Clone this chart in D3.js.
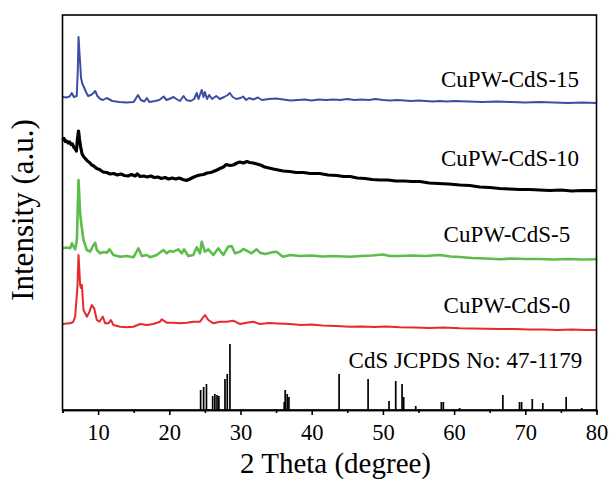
<!DOCTYPE html>
<meta charset="utf-8">
<head>
<style>
    body { margin: 0; background: #fff; }
    text { font-family: "Liberation Serif", "Times New Roman", serif; fill: #000; }
    .frame { fill: none; stroke: #000; stroke-width: 1.6px; }
    .axis path, .axis line { stroke: #000; stroke-width: 1.6px; }
    .axis text { font-size: 22.5px; font-family: "Liberation Serif", serif; }
    .trace { fill: none; stroke-linejoin: round; }
</style>
</head>
<body>
<script src="https://d3js.org/d3.v7.min.js"></script>
<script>

    // tick labels of the 2 theta axis
    var xTicks = [10, 20, 30, 40, 50, 60, 70, 80];
    var xMinorTicks = [5, 15, 25, 35, 45, 55, 65, 75];

    // stacked XRD traces, [2 theta, intensity (a.u., offset included)]
    var cupw15 = [[5.0,313],[5.5,312.5],[6.0,313.5],[6.3,317],[6.6,313],[7.0,314],[7.15,340],[7.25,373],[7.4,355],[7.5,345],[7.6,332],[7.8,326],[8.0,323],[8.3,318],[8.6,314],[9.0,315],[9.35,317],[9.6,319],[9.9,314],[10.3,311],[10.7,310],[11.2,312],[11.6,310.5],[12.0,309],[12.5,308.5],[13.0,308],[14.0,307.5],[15.0,308],[15.6,315],[16.0,310],[16.5,308.5],[16.85,312],[17.2,308],[18.0,309],[18.6,310],[19.2,313.5],[19.6,310],[20.0,311],[20.6,313],[21.0,311],[21.5,309],[22.0,314],[22.4,310],[23.0,309],[23.5,311],[23.85,317],[24.1,311],[24.55,320],[24.8,313],[25.0,318],[25.3,311],[25.6,315],[26.0,311],[26.6,314],[27.1,311],[27.7,313],[28.2,315],[28.5,317],[28.9,313],[29.4,311],[30.0,312],[30.35,313.5],[30.8,310],[31.2,312],[31.8,310.5],[32.45,312.5],[33.0,310],[34.0,311],[35.05,311.5],[36.0,310.5],[37.0,309.5],[38.05,310],[39.0,310.5],[40.0,309.5],[41.0,310.5],[42.0,310],[43.0,310.5],[44.0,310],[45.0,311],[46.0,310],[47.0,310.5],[48.0,310],[49.0,311],[50.0,310],[51.0,309.5],[52.0,310],[53.0,309.5],[54.0,309],[55.0,309.5],[56.0,309],[57.0,308.5],[58.0,309],[59.0,308.5],[60.0,309],[62.0,308.5],[64.0,308],[66.0,308.5],[68.0,308],[70.0,307.5],[72.0,308],[74.0,307.5],[76.0,307],[78.0,307.5],[80.0,307]];

    var cupw10 = [[5.0,270],[5.2,271.5],[5.4,268.5],[5.6,269],[5.8,267],[6.0,268],[6.2,265.5],[6.4,266],[6.6,262.5],[6.8,261],[6.95,259],[7.1,271],[7.25,279],[7.4,270],[7.55,263],[7.75,256],[8.0,253],[8.2,251.5],[8.5,249],[8.8,247.5],[9.1,245],[9.4,244],[9.8,241.5],[10.2,240.5],[10.7,238],[11.2,237.5],[11.7,236],[12.2,236.5],[12.7,235],[13.2,236],[13.7,234.5],[14.2,234],[14.7,235.5],[15.2,234],[15.5,236],[15.9,233.5],[16.4,234],[16.9,233],[17.4,234],[17.9,232.5],[18.4,233],[18.9,231.5],[19.4,232.5],[19.9,231],[20.4,232],[20.9,231],[21.4,232],[21.9,230.5],[22.4,229.5],[22.9,231],[23.3,232.5],[23.8,234],[24.3,235],[24.8,235.5],[25.3,237],[25.8,237.5],[26.2,238.5],[26.7,240],[27.1,241.5],[27.6,243],[28.0,245.5],[28.5,244.5],[29.0,245],[29.5,247],[29.9,248],[30.4,247],[30.9,248.5],[31.3,247.5],[31.8,247],[32.3,246],[32.8,245],[33.4,243],[34.0,242],[34.6,241],[35.3,240],[36.0,239],[36.9,238.5],[37.8,237.5],[38.8,237.5],[39.8,236.5],[41.1,236.5],[42.3,235],[43.5,234.5],[44.5,233.5],[45.4,233.5],[46.4,232],[47.5,231.5],[48.5,230.5],[49.6,230],[50.7,230],[51.8,229],[53.0,229],[54.1,228.5],[55.2,228.5],[56.5,227],[57.8,226.5],[59.2,226],[60.8,225],[62.2,224.5],[63.6,223],[65.0,222.5],[66.4,221.5],[67.8,221],[69.2,220.5],[70.6,220.5],[72.0,220],[73.5,219.5],[75.0,220],[76.5,219],[78.0,219.5],[80.0,219.3]];

    var cupw5 = [[5.0,161.7],[5.6,162.5],[6.08,161.7],[6.32,166.7],[6.78,160.7],[7.02,170],[7.25,230],[7.48,196.7],[7.72,181.7],[7.95,170],[8.42,160],[8.88,158.3],[9.35,165],[9.59,167.3],[9.82,160],[10.29,156.7],[10.8,158],[11.23,157.3],[11.59,160.7],[12.15,155],[13.09,153.3],[14.0,154],[14.96,152.7],[15.66,161.7],[16.14,154],[16.84,155],[17.3,152.7],[18.24,155],[19.17,160],[19.64,156.7],[20.1,159],[20.57,158.3],[21.27,160.7],[21.75,156.7],[22.07,160.7],[22.67,154],[23.37,155],[23.85,162.7],[24.31,156.7],[24.55,168.3],[25.01,158.3],[25.48,160.7],[26.18,155],[26.88,161.7],[27.58,155],[28.28,163.3],[28.76,164],[29.22,156.7],[29.92,158.3],[30.4,161],[30.86,159.3],[31.56,156.7],[32.27,160.7],[32.73,157.3],[33.5,156],[34.3,157.5],[35.07,158.3],[35.95,153.3],[37.0,155],[38.33,154],[40.0,154.5],[41.5,153.5],[43.0,154],[45.35,153.3],[47.0,154],[48.5,154.5],[49.98,155.5],[51.0,154],[52.36,154],[54.0,154.5],[56.0,154],[57.97,155],[59.5,153.5],[60.78,153],[62.5,152],[64.5,151.5],[66.39,150.7],[68.0,151.5],[70.0,151],[72.0,151],[74.0,150.5],[76.0,151],[78.0,150.5],[80.0,150.7]];

    var cupw0 = [[5.0,86],[5.6,86.5],[6.08,86.7],[6.5,88],[6.78,93.3],[7.1,123.3],[7.25,155],[7.48,125],[7.6,122],[7.72,125],[7.95,100],[8.42,93.3],[8.79,98.3],[9.12,105],[9.45,101.7],[9.82,90],[10.19,88.3],[10.66,93.3],[10.99,86.7],[11.46,86.7],[11.79,90],[12.15,85],[13.09,83.3],[14.03,82.7],[14.96,83.3],[15.9,86],[16.84,85],[17.77,86],[18.7,88.3],[18.94,90.7],[19.64,87.3],[20.57,87.3],[21.5,86.7],[22.45,87.3],[23.37,88.3],[24.31,88.3],[25.01,95],[25.48,90],[26.18,86.7],[27.12,88.3],[28.06,88.3],[28.98,89.3],[29.92,86],[30.86,87.3],[31.79,88.3],[32.73,86],[34.0,87],[35.3,86.5],[36.93,86],[38.5,85],[40.0,85.5],[41.5,84.5],[43.5,84],[45.35,83.3],[47.0,83.5],[48.8,83],[50.5,83.5],[52.36,82.7],[54.5,82.5],[56.5,82],[58.5,82.5],[60.78,81.7],[62.5,81.5],[64.5,81.2],[66.39,81],[68.5,81],[70.5,80.5],[72.5,80.5],[74.5,80],[76.5,80.5],[78.5,80],[80.0,80]];

    // CdS JCPDS No: 47-1179 reference lines, [2 theta, relative height]
    var cdsRef = [[24.40,20],[24.82,23],[25.22,26],[26.09,14],[26.40,16],[26.70,15],[26.96,14],[27.82,31],[28.14,36],[28.52,66],[36.14,8],[36.28,20],[36.56,16],[36.80,13],[43.85,36],[47.92,31],[50.86,9],[51.80,29],[52.69,26],[52.92,13],[54.61,4],[58.21,8],[58.49,8],[60.78,2],[66.85,15],[69.19,8],[69.48,8],[70.98,11],[72.46,7],[75.74,13],[77.93,2]];

    var seriesNames = ["CuPW-CdS-15", "CuPW-CdS-10", "CuPW-CdS-5", "CuPW-CdS-0", "CdS JCPDS No: 47-1179"];
    var seriesColors = ["#3b4ea3", "#000000", "#5dbd4b", "#e62a2b"];
    var seriesWidths = [2, 3.2, 2.6, 2];
    // label anchors (right end in 2 theta, baseline in a.u.)
    var labelEnds = [77.55, 77.55, 76.3, 76.3, 78.0];
    var labelLevels = [323, 244.3, 168.3, 97.3, 41.7];

    var margin = {top: 15, right: 14.5, bottom: 74, left: 62.5},
        width = 611 - margin.left - margin.right,
        height = 484 - margin.top - margin.bottom;

    var x = d3.scaleLinear().domain([5, 80]).range([0, width]);
    var y = d3.scaleLinear().domain([0, height]).range([height, 0]);

    var svg = d3.select("body").append("svg")
        .attr("width", 611)
        .attr("height", 484)
        .append("g")
        .attr("transform", "translate(" + margin.left + "," + margin.top + ")");

    var line = d3.line()
        .x(function (d) { return x(d[0]); })
        .y(function (d) { return y(d[1]); });

    [cupw15, cupw10, cupw5, cupw0].forEach(function (s, i) {
        svg.append("path")
            .datum(s)
            .attr("class", "trace")
            .attr("stroke", seriesColors[i])
            .attr("stroke-width", seriesWidths[i])
            .attr("d", line);
    });

    // reference sticks
    svg.selectAll(".stick")
        .data(cdsRef)
        .enter().append("line")
        .attr("class", "stick")
        .attr("x1", function (d) { return x(d[0]); })
        .attr("x2", function (d) { return x(d[0]); })
        .attr("y1", y(0))
        .attr("y2", function (d) { return y(d[1]); })
        .attr("stroke", "#000")
        .attr("stroke-width", 1.7);

    // series labels
    svg.selectAll(".lbl")
        .data(seriesNames)
        .enter().append("text")
        .attr("class", "lbl")
        .attr("x", function (d, i) { return x(labelEnds[i]); })
        .attr("y", function (d, i) { return y(labelLevels[i]); })
        .attr("text-anchor", "end")
        .style("font-size", "23px")
        .text(function (d) { return d; });

    // bottom axis with minor ticks
    svg.append("g")
        .attr("class", "axis")
        .attr("transform", "translate(0," + height + ")")
        .call(d3.axisBottom(x).tickValues(xMinorTicks).tickSize(3).tickFormat(""));

    svg.append("g")
        .attr("class", "axis")
        .attr("transform", "translate(0," + height + ")")
        .call(d3.axisBottom(x).tickValues(xTicks).tickSize(5).tickSizeOuter(0).tickPadding(9).tickFormat(d3.format("d")));

    svg.append("rect")
        .attr("class", "frame")
        .attr("width", width)
        .attr("height", height);

    svg.append("text")
        .attr("x", width / 2 + 6)
        .attr("y", height + 63)
        .attr("text-anchor", "middle")
        .style("font-size", "29px")
        .text("2 Theta (degree)");

    svg.append("text")
        .attr("transform", "rotate(-90)")
        .attr("x", -195)
        .attr("y", -30)
        .attr("text-anchor", "middle")
        .style("font-size", "31px")
        .text("Intensity (a.u.)");

</script>
</body>
